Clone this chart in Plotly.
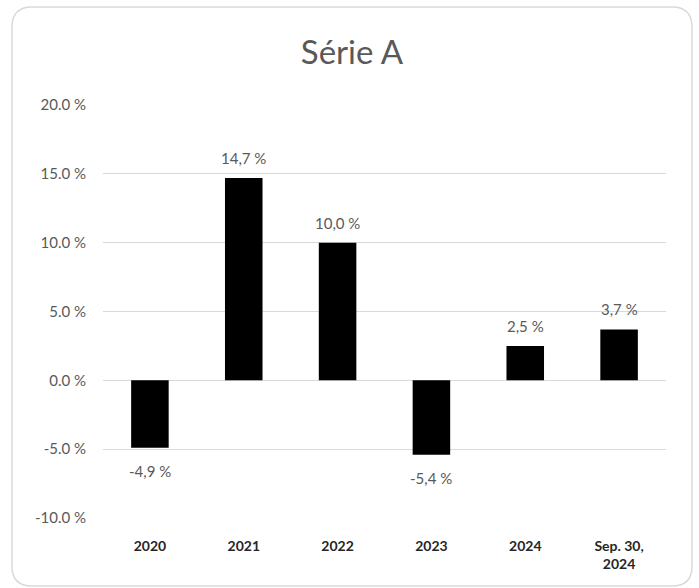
import plotly.graph_objects as go

categories = ["2020", "2021", "2022", "2023", "2024", "Sep. 30,<br>2024"]
values = [-4.9, 14.7, 10.0, -5.4, 2.5, 3.7]
y_ticks = [-10, -5, 0, 5, 10, 15, 20]
title_text = "Série A"

labels = [f"{v:.1f}".replace(".", ",") + " %" for v in values]
tick_text = [f"{t:.1f} %" for t in y_ticks]

W, H = 699, 588
L, R, T, B = 103, 33, 105, 70
FONT = "Lato, Carlito, Calibri, sans-serif"

xpos = list(range(len(categories)))

fig = go.Figure(go.Bar(
    x=xpos, y=values,
    marker=dict(color="black", line=dict(width=0)),
    width=0.4,
    hovertext=categories, hoverinfo="text+y",
))

for i, v, t in zip(xpos, values, labels):
    fig.add_annotation(x=i, y=v, xref="x", yref="y", text=t, showarrow=False, yanchor="middle",
                       yshift=20 if v >= 0 else -23,
                       font=dict(family=FONT, size=15, color="#595959"))

pw, ph = W - L - R, H - T - B
def px(x):
    return (x - L) / pw
def py(y):
    return (H - B - y) / ph

x0, x1, y0, y1, r = 12, 692, 7, 586, 20
rx, ry = r / pw, r / ph
path = (f"M {px(x0)+rx} {py(y0)} L {px(x1)-rx} {py(y0)} Q {px(x1)} {py(y0)} {px(x1)} {py(y0)-ry} "
        f"L {px(x1)} {py(y1)+ry} Q {px(x1)} {py(y1)} {px(x1)-rx} {py(y1)} "
        f"L {px(x0)+rx} {py(y1)} Q {px(x0)} {py(y1)} {px(x0)} {py(y1)+ry} "
        f"L {px(x0)} {py(y0)-ry} Q {px(x0)} {py(y0)} {px(x0)+rx} {py(y0)} Z")

fig.update_layout(
    width=W, height=H,
    margin=dict(l=L, r=R, t=T, b=B, autoexpand=False),
    paper_bgcolor="white", plot_bgcolor="white",
    showlegend=False,
    title=dict(text=title_text, x=352 / W, xanchor="center", y=1 - 52 / H, yanchor="middle",
               font=dict(family=FONT, size=33, color="#595959")),
    xaxis=dict(range=[-0.5, len(categories) - 0.5], tickvals=xpos, ticktext=categories,
               showgrid=False, showline=False, ticks="", zeroline=False, ticklabelstandoff=18,
               tickfont=dict(family=FONT, size=14, color="#262626", weight="bold")),
    yaxis=dict(range=[-10, 20], tickvals=y_ticks, ticktext=tick_text,
               showgrid=True, gridcolor="#d9d9d9", gridwidth=1,
               zeroline=True, zerolinecolor="#d9d9d9", zerolinewidth=1,
               showline=False, ticks="", ticklabelstandoff=16,
               tickfont=dict(family=FONT, size=15, color="#595959")),
    shapes=[dict(type="path", xref="paper", yref="paper", path=path,
                 line=dict(color="#d9d9d9", width=1.5), fillcolor="rgba(0,0,0,0)", layer="below")],
)

fig.write_html("out.html", config={"displayModeBar": False},
               post_script="document.body.style.margin='0';document.body.style.overflow='hidden';")
